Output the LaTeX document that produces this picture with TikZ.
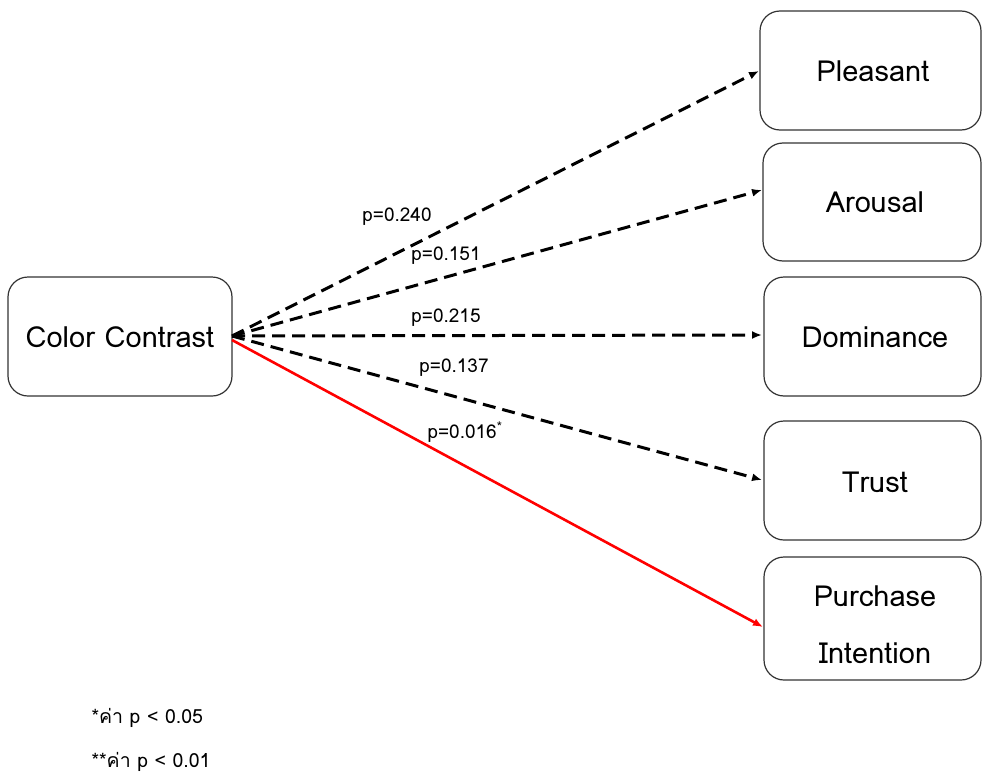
\documentclass[tikz,border=0pt]{standalone}
\usepackage{fontspec}
\setmainfont{Loma}[Script=Thai]
\usetikzlibrary{arrows.meta}
\tikzset{
  box/.style={draw=black!80, line width=1.2pt, rounded corners=20pt},
  boxtext/.style={font=\fontsize{29}{33}\selectfont},
  dasharrow/.style={line width=3pt, dash pattern=on 13pt off 7pt, -{Latex[length=10pt,width=8pt]}},
  redarrow/.style={draw=red, line width=2.6pt, -{Latex[length=10pt,width=8pt]}},
  plabel/.style={font=\fontsize{19}{22}\selectfont},
  note/.style={font=\fontsize{19.5}{22}\selectfont, anchor=west}
}
\begin{document}
\begin{tikzpicture}[x=1pt,y=-1pt]
\useasboundingbox (0,0) rectangle (982,776);
\draw[box] (8,277) rectangle (232,396);
\node[boxtext] (cc) at (120,337) {Color Contrast};
\coordinate (ccE) at (232,336);
\coordinate (ccR) at (232,340);

\draw[box] (760,11) rectangle (981,130);
\node[boxtext] (pl) at (873,71) {Pleasant};
\coordinate (plW) at (759,71);

\draw[box] (763,143) rectangle (981,261);
\node[boxtext] (ar) at (875,202) {Arousal};
\coordinate (arW) at (762,190);

\draw[box] (764,277) rectangle (981,396);
\node[boxtext] (do) at (875,337) {Dominance};
\coordinate (doW) at (762,335);

\draw[box] (764,421) rectangle (981,540);
\node[boxtext] (tr) at (875,482) {Trust};
\coordinate (trW) at (762,480);

\draw[box] (764,557) rectangle (981,680);
\node[boxtext] (pu) at (875,596) {Purchase};
\node[boxtext] (in) at (875,653) {Intention};
\coordinate (puW) at (763,627);

\draw[dasharrow] (ccE) -- (plW);
\draw[dasharrow] (ccE) -- (arW);
\draw[dasharrow] (ccE) -- (doW);
\draw[dasharrow] (ccE) -- (trW);
\draw[redarrow] (ccR) -- (puW);

\node[plabel] (l1) at (397,217) {p=0.240};
\node[plabel] (l2) at (446,256) {p=0.151};
\node[plabel] (l3) at (446,318) {p=0.215};
\node[plabel] (l4) at (454,368) {p=0.137};
\node[plabel] (l5) at (465,432) {p=0.016\textsuperscript{*}};

\node[note] (n1) at (88,718) {*ค่า p < 0.05};
\node[note] (n2) at (88,762) {**ค่า p < 0.01};
\end{tikzpicture}
\end{document}
